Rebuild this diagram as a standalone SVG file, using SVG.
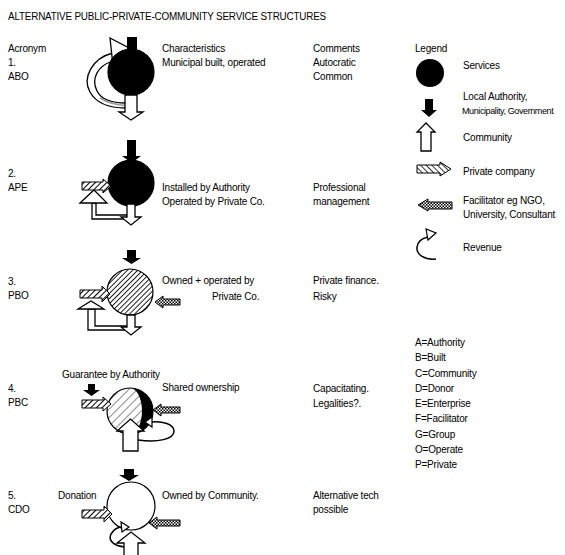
<svg xmlns="http://www.w3.org/2000/svg" width="565" height="555" viewBox="0 0 565 555">
<defs>
<pattern id="hatch" width="4" height="4" patternUnits="userSpaceOnUse" patternTransform="rotate(45)"><rect width="4" height="4" fill="#fff"/><line x1="0" y1="0" x2="0" y2="4" stroke="#000" stroke-width="2"/></pattern>
<pattern id="hatchL" width="4" height="4" patternUnits="userSpaceOnUse" patternTransform="rotate(-45)"><rect width="4" height="4" fill="#fff"/><line x1="0" y1="0" x2="0" y2="4" stroke="#000" stroke-width="1.6"/></pattern>
<pattern id="hatchDense" width="3.6" height="3.6" patternUnits="userSpaceOnUse" patternTransform="rotate(45)"><rect width="3.6" height="3.6" fill="#fff"/><line x1="0" y1="0" x2="0" y2="3.6" stroke="#000" stroke-width="1.7"/></pattern>
<pattern id="hatchSparse" width="6" height="6" patternUnits="userSpaceOnUse" patternTransform="rotate(45)"><rect width="6" height="6" fill="#fff"/><line x1="0" y1="0" x2="0" y2="6" stroke="#000" stroke-width="0.9"/></pattern>
<pattern id="check" width="3" height="3" patternUnits="userSpaceOnUse"><rect width="3" height="3" fill="#fff"/><rect width="1.5" height="1.5" fill="#000"/><rect x="1.5" y="1.5" width="1.5" height="1.5" fill="#000"/></pattern>
</defs>
<style>
text{font-family:"Liberation Sans",Arial,sans-serif;font-size:10px;fill:#000;letter-spacing:-0.2px}
.auth{fill:#000}
.comm{fill:#fff;stroke:#000;stroke-width:1.3}
.priv{fill:url(#hatch);stroke:#000;stroke-width:1}
.fac{fill:url(#check);stroke:#000;stroke-width:1}
.rev{fill:none;stroke:#000;stroke-width:1.5}
.revhead{fill:#fff;stroke:#000;stroke-width:1.2}
.svc{stroke:#000;stroke-width:1.2}
</style>
<rect width="565" height="555" fill="#fff"/>

<g id="title"><text x="8" y="20" textLength="318" lengthAdjust="spacingAndGlyphs">ALTERNATIVE PUBLIC-PRIVATE-COMMUNITY SERVICE STRUCTURES</text></g>

<g id="headers">
<text x="8" y="52">Acronym</text>
<text x="162" y="52">Characteristics</text>
<text x="313" y="52">Comments</text>
<text x="415" y="52">Legend</text>
</g>

<g id="row1">
<text x="8" y="66">1.</text>
<text x="8" y="80">ABO</text>
<text x="162" y="66">Municipal built, operated</text>
<text x="313" y="66">Autocratic</text>
<text x="313" y="80">Common</text>
<path class="comm" d="M113,53 C92,58 82,78 90,92 C96,103 110,108 126,108 L126,103 C112,103 101,99 97,91 C91,79 97,66 113,61 Z"/>
<path d="M100,98 C108,103 116,105 126,105.5" fill="none" stroke="#999" stroke-width="1.5"/>
<polygon class="comm" points="110,38 131,49 113,66"/>
<circle class="svc" cx="131" cy="72" r="23" fill="#000"/>
<polygon class="auth" points="127,37 137,37 137,54 142,54 132,61 122,54 127,54"/>
<polygon class="comm" points="125,95 137,95 137,112 143,112 131,120 119,112 125,112"/>
</g>

<g id="row2">
<text x="8" y="177">2.</text>
<text x="8" y="191">APE</text>
<text x="162" y="191">Installed by Authority</text>
<text x="162" y="205">Operated by Private Co.</text>
<text x="313" y="191">Professional</text>
<text x="313" y="205">management</text>
<path class="comm" d="M92,203 L92,219 L127,219 L127,215 L96,215 L96,203 Z"/>
<polygon class="comm" points="80,203 94,190 107,203"/>
<circle class="svc" cx="131" cy="183" r="23" fill="#000"/>
<polygon class="auth" points="127,140 136,140 136,156 141,156 131.5,163 122,156 127,156"/>
<polygon class="comm" points="127,204 135,204 135,217 141,217 131,225 121,217 127,217"/>
<polygon class="priv" points="82,182 103,182 103,179 111,186 103,193 103,190 82,190"/>
</g>

<g id="row3">
<text x="8" y="285">3.</text>
<text x="8" y="299">PBO</text>
<text x="162" y="284">Owned + operated by</text>
<text x="212" y="300">Private Co.</text>
<text x="313" y="284">Private finance.</text>
<text x="313" y="300">Risky</text>
<path class="comm" d="M88,309 L88,330 L127,330 L127,326 L95,326 L95,309 Z"/>
<polygon class="comm" points="78,309 91,301 104,309"/>
<circle class="svc" cx="130" cy="292" r="23" fill="url(#hatchDense)"/>
<polygon class="auth" points="127,250 136,250 136,258 141,258 131.5,264 122,258 127,258"/>
<polygon class="comm" points="127,315 135,315 135,327 141,327 131,335 121,327 127,327"/>
<polygon class="priv" points="80,290 102,290 102,286 110,294 102,302 102,298 80,298"/>
<polygon class="fac" points="155,302 163,296 163,299 180,299 180,305 163,305 163,308"/>
</g>

<g id="row4">
<text x="8" y="392">4.</text>
<text x="8" y="406">PBC</text>
<text x="62" y="378">Guarantee by Authority</text>
<text x="162" y="391">Shared ownership</text>
<text x="313" y="392">Capacitating.</text>
<text x="313" y="407">Legalities?.</text>
<circle cx="130" cy="411" r="23" fill="url(#hatchSparse)"/>
<path d="M130,388 A23,23 0 0 1 130,434 A12,23 0 0 0 130,388 Z" fill="#000"/>
<circle cx="130" cy="411" r="23" fill="none" stroke="#000" stroke-width="1.2"/>
<polygon class="auth" points="88,384 95,384 95,390 100,390 91.5,396 83,390 88,390"/>
<polygon class="priv" points="82,400 103,400 103,397 111,404 103,411 103,408 82,408"/>
<polygon class="fac" points="153,410 161,404 161,407 180,407 180,413 161,413 161,416"/>
<path class="rev" d="M138,440 C158,443 174,439 174,431 C174,424 162,421 152,422"/>
<polygon class="revhead" points="152,417 152,427 145,422"/>
<polygon class="comm" points="123,451 138,451 138,431 144,431 130.5,419 117,431 123,431"/>
</g>

<g id="row5">
<text x="8" y="499">5.</text>
<text x="8" y="513">CDO</text>
<text x="58" y="499">Donation</text>
<text x="162" y="499">Owned by Community.</text>
<text x="313" y="499">Alternative tech</text>
<text x="313" y="513">possible</text>
<polygon class="auth" points="124,469 134,469 134,475 139,475 129,481 119,475 124,475"/>
<circle cx="131" cy="506" r="24" fill="#fff" stroke="#000" stroke-width="1.2"/>
<polygon class="priv" points="82,510 104,510 104,506 112,514 104,522 104,518 82,518"/>
<polygon class="fac" points="149,523 157,517 157,520 180,520 180,526 157,526 157,529"/>
<path class="rev" d="M125,547 C113,546 108,540 111,534 C114,529 118,527 122,527"/>
<polygon class="revhead" points="121,522 122,532 129,527"/>
<polygon class="comm" points="124,557 138,557 138,543 145,543 131,532 117,543 124,543"/>
</g>

<g id="legend">
<g id="leg-services"><circle cx="430" cy="73" r="14" fill="#000"/><text x="463" y="69">Services</text></g>
<g id="leg-authority"><polygon class="auth" points="425,99 433,99 433,110 437,110 429,117 421,110 425,110"/><text x="463" y="100">Local Authority,</text><text x="462" y="114" style="font-size:9px;letter-spacing:-0.4px">Municipality, Government</text></g>
<g id="leg-community"><polygon class="comm" points="421,151 431,151 431,132 435,132 426,123 417,132 421,132"/><text x="463" y="141">Community</text></g>
<g id="leg-private"><polygon points="417,165 440,165 440,162 451,169 440,176 440,173 417,173" fill="url(#hatchL)" stroke="#000" stroke-width="1"/><text x="463" y="175">Private company</text></g>
<g id="leg-facilitator"><polygon class="fac" points="418,205 428,199 428,202 452,202 452,209 428,209 428,211"/><text x="463" y="204">Facilitator eg NGO,</text><text x="463" y="218">University, Consultant</text></g>
<g id="leg-revenue"><path class="rev" d="M436,259 C425,260 416,255 417,247 C418,241 423,238 428,237"/><polygon class="revhead" points="426,229 428,240 436,233"/><text x="463" y="251">Revenue</text></g>
</g>

<g id="abbreviations">
<text x="415" y="346">A=Authority</text>
<text x="415" y="361">B=Built</text>
<text x="415" y="377">C=Community</text>
<text x="415" y="392">D=Donor</text>
<text x="415" y="407">E=Enterprise</text>
<text x="415" y="422">F=Facilitator</text>
<text x="415" y="438">G=Group</text>
<text x="415" y="453">O=Operate</text>
<text x="415" y="468">P=Private</text>
</g>
</svg>
